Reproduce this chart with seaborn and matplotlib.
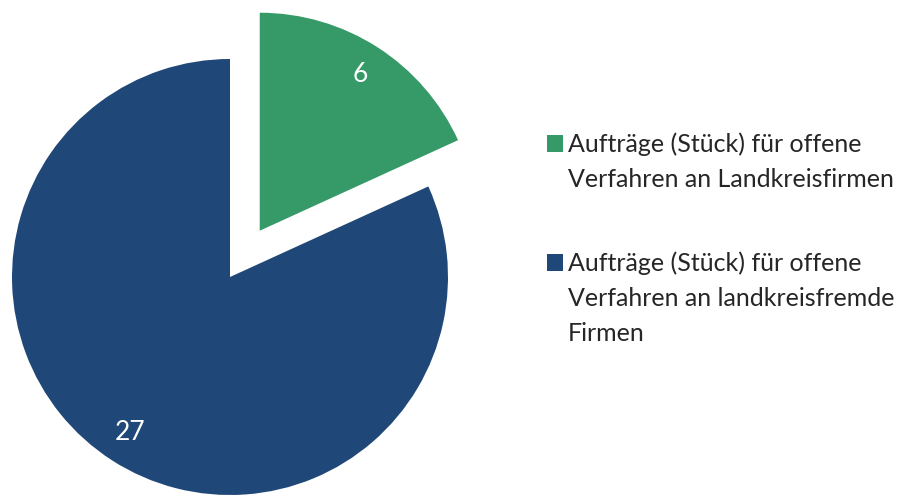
import matplotlib
matplotlib.use("Agg")
import matplotlib.pyplot as plt
from matplotlib.patches import Rectangle
import seaborn as sns

# Contract counts for open procedures
categories = [
    "Aufträge (Stück) für offene\nVerfahren an Landkreisfirmen",
    "Aufträge (Stück) für offene\nVerfahren an landkreisfremde\nFirmen",
]
counts = [6, 27]
colors = ["#359A68", "#1F4778"]

sns.set_theme(style="white")
plt.rcParams["font.family"] = ["Lato", "DejaVu Sans"]

W, H = 915, 495
fig = plt.figure(figsize=(W / 100, H / 100), dpi=100)
ax = fig.add_axes([0, 0, 1, 1])

total = sum(counts)
wedges, _, autotexts = ax.pie(
    counts,
    colors=colors,
    startangle=90,
    counterclock=False,
    center=(230, 218),
    radius=218,
    explode=[55, 0],
    autopct=lambda p: f"{round(p * total / 100)}",
    pctdistance=0.85,
    textprops=dict(color="white", fontsize=19),
    wedgeprops=dict(linewidth=0),
    frame=True,
)
ax.set_xlim(0, W)
ax.set_ylim(0, H)
ax.set_aspect("equal")
ax.axis("off")

# Legend on the right: square swatch beside the first line, wrapped label lines
first_baselines = [152, 271]
line_step = 35
swatch = 16
for label, color, base in zip(categories, colors, first_baselines):
    ax.add_patch(Rectangle((547, H - base), swatch, swatch + 1,
                           facecolor=color, edgecolor="none"))
    for i, line in enumerate(label.split("\n")):
        ax.text(568, H - (base + i * line_step), line, fontsize=18,
                color="#262626", ha="left", va="baseline")

fig.savefig("out.png", dpi=100)
